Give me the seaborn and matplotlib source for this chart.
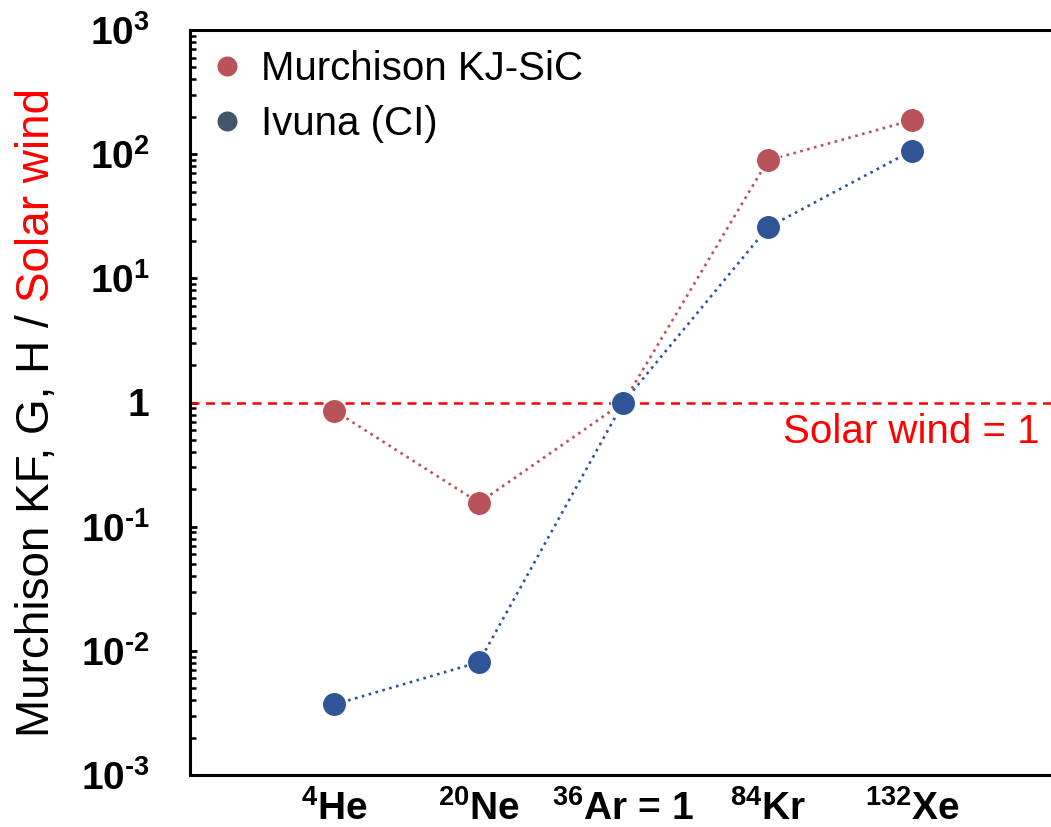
import numpy as np
import pandas as pd
import matplotlib
matplotlib.use("Agg")
import matplotlib.pyplot as plt
from matplotlib.lines import Line2D
from matplotlib.ticker import FixedLocator, FixedFormatter, LogLocator, NullFormatter
import seaborn as sns

# Noble-gas abundance patterns normalised to solar wind (36Ar = 1)
isotopes = [r"$^{\mathbf{4}}$He", r"$^{\mathbf{20}}$Ne", r"$^{\mathbf{36}}$Ar = 1",
            r"$^{\mathbf{84}}$Kr", r"$^{\mathbf{132}}$Xe"]
murchison_kj_sic = [0.86, 0.156, 1.0, 89.0, 188.0]
ivuna_ci = [0.0037, 0.0081, 1.0, 25.7, 107.0]
series_names = ["Murchison KJ-SiC", "Ivuna (CI)"]

ytick_values = [1e-3, 1e-2, 1e-1, 1, 1e1, 1e2, 1e3]
ytick_labels = ["10$^{\\mathbf{\u20103}}$", "10$^{\\mathbf{\u20102}}$", "10$^{\\mathbf{\u20101}}$",
                "1", "10$^{\\mathbf{1}}$", "10$^{\\mathbf{2}}$", "10$^{\\mathbf{3}}$"]

RED = "#B8535A"
BLUE = "#2F5597"
BLUE_LEGEND = "#44546A"

sns.set_theme(style="white")
plt.rcParams["font.family"] = ["Liberation Sans", "DejaVu Sans"]
plt.rcParams["mathtext.fontset"] = "custom"
plt.rcParams["mathtext.rm"] = "Liberation Sans"
plt.rcParams["mathtext.bf"] = "Liberation Sans:bold"
plt.rcParams["mathtext.it"] = "Liberation Sans:italic"
for key in ["text.color", "axes.labelcolor", "xtick.color", "ytick.color"]:
    plt.rcParams[key] = "black"

W, H = 1051, 827
fig = plt.figure(figsize=(W / 100, H / 100), dpi=100)
x_left, x_right = 190, 1056.75
y_top, y_bottom = 30, 775
ax = fig.add_axes([x_left / W, 1 - y_bottom / H, (x_right - x_left) / W, (y_bottom - y_top) / H])

pos = np.arange(len(isotopes))
df = pd.DataFrame({
    "pos": np.concatenate([pos, pos]),
    "value": murchison_kj_sic + ivuna_ci,
    "sample": [series_names[0]] * len(pos) + [series_names[1]] * len(pos),
})

# reference line: solar wind = 1
ax.axhline(1, color="red", lw=1.8, dashes=(3.6, 2.6), zorder=1)

for name, col in zip(series_names, [RED, BLUE]):
    sub = df[df["sample"] == name]
    sns.lineplot(data=sub, x="pos", y="value", color=col, lw=1.9,
                 linestyle=(0, (1, 1.7)), ax=ax, legend=False, zorder=2)
for name, col in zip(series_names, [RED, BLUE]):
    sub = df[df["sample"] == name]
    sns.scatterplot(data=sub, x="pos", y="value", color=col, s=300,
                    edgecolor="white", linewidth=0.8, ax=ax, legend=False, zorder=3)

ax.set_yscale("log")
ax.set_ylim(1e-3, 1e3)
ax.set_xlim(-1, 5)

ax.yaxis.set_major_locator(FixedLocator(ytick_values))
ax.yaxis.set_major_formatter(FixedFormatter(ytick_labels))
ax.yaxis.set_minor_locator(LogLocator(base=10, subs=np.arange(2, 10), numticks=20))
ax.yaxis.set_minor_formatter(NullFormatter())
ax.tick_params(axis="y", which="both", left=True, direction="in", colors="black")
ax.tick_params(axis="y", which="major", length=5, width=2, labelsize=28, pad=29)
ax.tick_params(axis="y", which="minor", length=4, width=1.8)
for lab in ax.get_yticklabels():
    lab.set_fontweight("bold")
ax.set_xticks(pos)
ax.set_xticklabels(isotopes, fontweight="bold")
ax.tick_params(axis="x", length=0, labelsize=28, pad=11, colors="black")
ax.set_xlabel("")
ax.set_ylabel("")

for side in ["left", "bottom", "top", "right"]:
    ax.spines[side].set_color("black")
    ax.spines[side].set_linewidth(2.2)

ax.text(4.884, 0.476, "Solar wind = 1", color="red", fontsize=29,
        ha="right", va="baseline")

handles = [Line2D([], [], ls="", marker="o", markersize=14.4, markerfacecolor=c,
                  markeredgecolor="none") for c in [RED, BLUE_LEGEND]]
leg = ax.legend(handles, series_names, loc="upper left", bbox_to_anchor=(-0.015, 1.016),
                frameon=False, fontsize=29, handlelength=0.9, handletextpad=0.38,
                labelspacing=0.42, borderaxespad=0.4)
for t in leg.get_texts():
    t.set_color("black")

# two-coloured y-axis title
label_x = 37 / W
t1 = fig.text(label_x, 1 - 737 / H, "Murchison KF, G, H /", rotation=90,
              ha="center", va="bottom", fontsize=33, color="black")
fig.canvas.draw()
bb = t1.get_window_extent(fig.canvas.get_renderer())
space_px = 0.278 * 33 * 100 / 72
t2 = fig.text(label_x, (bb.y1 + space_px) / H, "Solar wind", rotation=90,
              ha="center", va="bottom", fontsize=33, color="red")

fig.savefig("out.png", dpi=100)
